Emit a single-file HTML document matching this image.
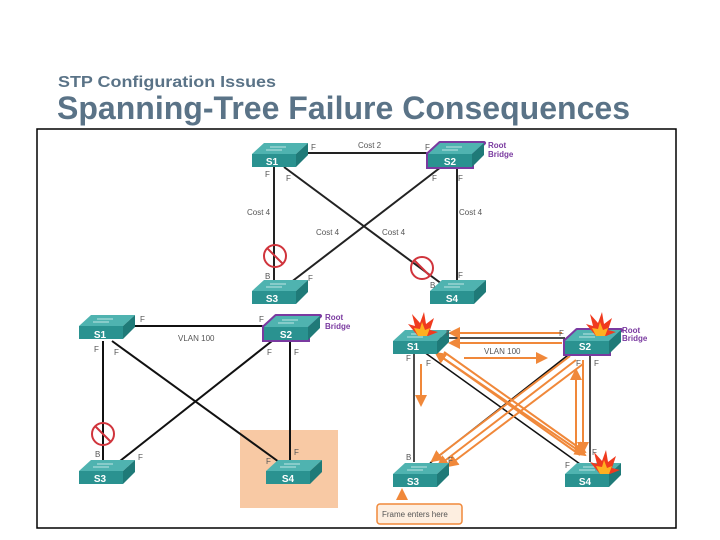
<!DOCTYPE html>
<html><head><meta charset="utf-8"><style>
html,body{margin:0;padding:0;background:#fff;width:720px;height:540px;overflow:hidden}
svg text{font-family:"Liberation Sans",sans-serif}
</style></head><body>
<svg width="720" height="540" viewBox="0 0 720 540" xmlns="http://www.w3.org/2000/svg">
<defs>
<g id="sw">
<polygon points="0,11 44,11 56,0 12,0" fill="#4fb3b0"/>
<polygon points="44,11 56,0 56,12 44,24" fill="#1f7a78"/>
<rect x="0" y="11" width="44" height="13" fill="#2a9290"/>
<line x1="18" y1="4" x2="34" y2="4" stroke="#bfe6e4" stroke-width="1"/>
<line x1="14" y1="7" x2="30" y2="7" stroke="#bfe6e4" stroke-width="1"/>
</g>
<g id="blk"><circle r="11" fill="none" stroke="#d0343c" stroke-width="2"/><line x1="-8" y1="-8" x2="8" y2="8" stroke="#d0343c" stroke-width="2"/></g>
<g id="fl"><polygon points="0,10 -10,-2 -3,0 -6,-12 2,-3 6,-14 8,-2 16,-8 12,4 20,6 10,10" fill="#f03a1e"/><polygon points="0,10 -4,2 2,3 4,-4 7,4 12,2 9,10" fill="#ffb020"/></g>
<marker id="ar" markerWidth="6" markerHeight="6" refX="5" refY="3" orient="auto"><path d="M0,0 L6,3 L0,6 z" fill="#f0883a"/></marker>
</defs>
<text x="58" y="87" font-size="16" font-weight="bold" fill="#5a7387" textLength="218" lengthAdjust="spacingAndGlyphs">STP Configuration Issues</text>
<text x="57" y="119" font-size="32" font-weight="bold" fill="#5a7387" textLength="573" lengthAdjust="spacingAndGlyphs">Spanning-Tree Failure Consequences</text>
<rect x="37" y="129" width="639" height="399" fill="none" stroke="#000" stroke-width="1.5"/>

<!-- top diagram -->
<g stroke="#222" stroke-width="2" fill="none">
<line x1="306" y1="153" x2="430" y2="153"/>
<line x1="274" y1="167" x2="274" y2="283"/>
<line x1="457" y1="167" x2="457" y2="283"/>
<line x1="284" y1="167" x2="446" y2="287"/>
<line x1="441" y1="167" x2="290" y2="283"/>
</g>
<use href="#blk" x="275" y="256"/><use href="#blk" x="422" y="268"/>
<use href="#sw" x="252" y="143"/>
<polygon points="428,154 472,154 484,143 440,143" fill="none" stroke="#7a3aa0" stroke-width="4" stroke-linejoin="round"/>
<polygon points="428,154 472,154 472,167 428,167" fill="none" stroke="#7a3aa0" stroke-width="4"/>
<use href="#sw" x="428" y="143"/>
<use href="#sw" x="252" y="280"/><use href="#sw" x="430" y="280"/>
<g font-size="10" font-weight="bold" fill="#fff" text-anchor="middle">
<text x="272" y="165">S1</text><text x="450" y="165">S2</text><text x="272" y="302">S3</text><text x="452" y="302">S4</text>
</g>
<g font-size="8" fill="#555">
<text x="311" y="150">F</text><text x="425" y="150">F</text><text x="358" y="148">Cost 2</text>
<text x="265" y="177">F</text><text x="286" y="181">F</text><text x="432" y="181">F</text><text x="458" y="181">F</text>
<text x="247" y="215">Cost 4</text><text x="459" y="215">Cost 4</text>
<text x="316" y="235">Cost 4</text><text x="382" y="235">Cost 4</text>
<text x="265" y="279">B</text><text x="308" y="281">F</text><text x="430" y="288">B</text><text x="458" y="278">F</text>
</g>
<g font-size="8" font-weight="bold" fill="#7a3aa0"><text x="488" y="148">Root</text><text x="488" y="157">Bridge</text></g>

<!-- bottom-left -->
<rect x="240" y="430" width="98" height="78" fill="#f8c9a4"/>
<g stroke="#111" stroke-width="2" fill="none">
<line x1="133" y1="326" x2="263" y2="326"/>
<line x1="103" y1="341" x2="103" y2="460"/>
<line x1="290" y1="341" x2="290" y2="460"/>
<line x1="112" y1="341" x2="279" y2="462"/>
<line x1="272" y1="341" x2="120" y2="461"/>
</g>
<use href="#blk" x="103" y="434"/>
<use href="#sw" x="79" y="315"/>
<polygon points="264,327 308,327 320,316 276,316" fill="none" stroke="#7a3aa0" stroke-width="4" stroke-linejoin="round"/>
<rect x="264" y="327" width="44" height="13" fill="none" stroke="#7a3aa0" stroke-width="4"/>
<use href="#sw" x="264" y="316"/>
<use href="#sw" x="79" y="460"/><use href="#sw" x="266" y="460"/>
<g font-size="10" font-weight="bold" fill="#fff" text-anchor="middle">
<text x="100" y="338">S1</text><text x="286" y="338">S2</text><text x="100" y="482">S3</text><text x="288" y="482">S4</text>
</g>
<g font-size="8" fill="#555">
<text x="140" y="322">F</text><text x="259" y="322">F</text><text x="178" y="341">VLAN 100</text>
<text x="94" y="352">F</text><text x="114" y="355">F</text><text x="267" y="355">F</text><text x="294" y="355">F</text>
<text x="95" y="457">B</text><text x="138" y="460">F</text><text x="266" y="464">F</text><text x="294" y="455">F</text>
</g>
<g font-size="8" font-weight="bold" fill="#7a3aa0"><text x="325" y="320">Root</text><text x="325" y="329">Bridge</text></g>

<!-- bottom-right -->
<g stroke="#111" stroke-width="1.5" fill="none">
<line x1="437" y1="338" x2="565" y2="338"/>
<line x1="414" y1="352" x2="414" y2="462"/>
<line x1="590" y1="352" x2="590" y2="462"/>
<line x1="424" y1="352" x2="580" y2="464"/>
<line x1="572" y1="352" x2="430" y2="463"/>
</g>
<g stroke="#f0883a" stroke-width="2" fill="none" marker-end="url(#ar)">
<line x1="562" y1="333" x2="450" y2="333"/>
<line x1="562" y1="343" x2="450" y2="343"/>
<line x1="464" y1="358" x2="546" y2="358"/>
<line x1="421" y1="364" x2="421" y2="405"/>
<line x1="570" y1="356" x2="432" y2="461"/>
<line x1="576" y1="360" x2="438" y2="466"/>
<line x1="583" y1="364" x2="448" y2="466"/>
<line x1="580" y1="455" x2="436" y2="353"/>
<line x1="440" y1="356" x2="585" y2="455"/>
<line x1="444" y1="352" x2="585" y2="452"/>
<line x1="576" y1="450" x2="576" y2="370"/>
<line x1="583" y1="360" x2="583" y2="452"/>
<line x1="402" y1="500" x2="402" y2="490"/>
</g>
<use href="#sw" x="393" y="330"/>
<polygon points="565,341 609,341 621,330 577,330" fill="none" stroke="#7a3aa0" stroke-width="4" stroke-linejoin="round"/>
<rect x="565" y="341" width="44" height="13" fill="none" stroke="#7a3aa0" stroke-width="4"/>
<use href="#sw" x="565" y="330"/>
<use href="#sw" x="393" y="463"/><use href="#sw" x="565" y="463"/>
<use href="#fl" x="418" y="326"/><use href="#fl" x="596" y="326"/><use href="#fl" x="600" y="464"/>
<g font-size="10" font-weight="bold" fill="#fff" text-anchor="middle">
<text x="413" y="350">S1</text><text x="585" y="350">S2</text><text x="413" y="485">S3</text><text x="585" y="485">S4</text>
</g>
<g font-size="8" fill="#555">
<text x="446" y="336">F</text><text x="559" y="336">F</text><text x="484" y="354">VLAN 100</text>
<text x="406" y="361">F</text><text x="426" y="366">F</text><text x="576" y="366">F</text><text x="594" y="366">F</text>
<text x="406" y="460">B</text><text x="448" y="463">F</text><text x="565" y="468">F</text><text x="592" y="455">F</text>
</g>
<g font-size="8" font-weight="bold" fill="#7a3aa0"><text x="622" y="333">Root</text><text x="622" y="341">Bridge</text></g>
<rect x="377" y="504" width="85" height="20" rx="3" fill="#fdeee0" stroke="#f0883a" stroke-width="1.5"/>
<text x="382" y="517" font-size="8" fill="#555">Frame enters here</text>
</svg>
</body></html>
